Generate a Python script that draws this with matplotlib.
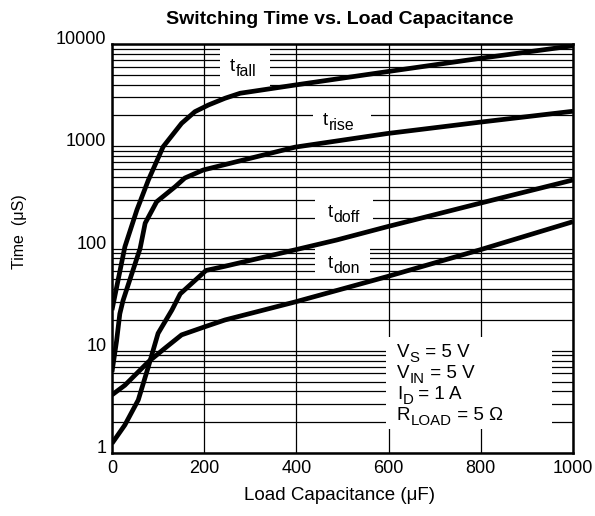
import matplotlib

matplotlib.use("Agg")

import matplotlib.pyplot as plt
import matplotlib.transforms as mtransforms
from matplotlib.patches import Rectangle
from matplotlib.ticker import LogLocator, NullFormatter

plt.rcParams["font.family"] = ["Liberation Sans", "DejaVu Sans"]

# values (load capacitance in uF, time in uS)
tfall_x = [0, 28, 54, 79, 111, 151, 180, 209, 245, 278, 397, 596, 798, 1000]
tfall_y = [25, 104, 238, 468, 990, 1676, 2180, 2530, 2946, 3300, 3970, 5360, 7240, 9600]

trise_x = [0, 10, 17, 24, 61, 72, 97, 137, 158, 198, 397, 596, 798, 1000]
trise_y = [6.2, 12.5, 23, 31, 100, 177, 287, 402, 489, 586, 980, 1330, 1720, 2200]

tdoff_x = [0, 28, 57, 79, 100, 130, 148, 204, 245, 397, 487, 596, 798, 1000]
tdoff_y = [1.24, 1.88, 3.3, 7.0, 14.8, 25, 36, 61, 67, 97, 121, 163, 277, 468]

tdon_x = [0, 28, 79, 115, 151, 202, 245, 397, 596, 798, 1000]
tdon_y = [3.7, 4.6, 7.8, 10.6, 14.3, 17.2, 20, 30, 53, 97, 183]

x_ticks = [0, 200, 400, 600, 800, 1000]
y_ticks = [1, 10, 100, 1000, 10000]
y_tick_labels = ["1", "10", "100", "1000", "10000"]

# (main, subscript, rest)
curve_labels = [("t", "fall", ""), ("t", "rise", ""), ("t", "doff", ""), ("t", "don", "")]
conditions = [("V", "S", " = 5 V"), ("V", "IN", " = 5 V"), ("I", "D", " = 1 A"), ("R", "LOAD", " = 5 Ω")]


def sub_text(ax, x, y, main, sub, rest, size, sub_scale=0.85):
    t1 = ax.text(x, y, main, transform=ax.transAxes, fontsize=size,
                 ha="left", va="baseline", zorder=4)
    t2 = ax.annotate(sub, xy=(1, 0), xycoords=t1, xytext=(0.2, -2.6),
                     textcoords="offset points", fontsize=size * sub_scale,
                     ha="left", va="bottom", zorder=4)
    if rest:
        ax.annotate(rest, xy=(1, 0), xycoords=(t2, t1), xytext=(0, 0),
                    textcoords="offset points", fontsize=size,
                    ha="left", va="bottom", zorder=4)


fig = plt.figure(figsize=(5.95, 5.16), dpi=100)
ax = fig.add_axes([0.1882, 0.1221, 0.7748, 0.7926])

for xs, ys in [(tfall_x, tfall_y), (trise_x, trise_y), (tdoff_x, tdoff_y), (tdon_x, tdon_y)]:
    ax.plot(xs, ys, color="black", lw=3.4, solid_capstyle="butt", solid_joinstyle="round", zorder=3)

ax.set_xlim(0, 1000)
ax.set_yscale("log")
ax.set_ylim(1, 10000)
ax.set_xticks(x_ticks)
ax.set_yticks(y_ticks)
ax.set_yticklabels(y_tick_labels)
ax.yaxis.set_minor_locator(LogLocator(base=10, subs=range(2, 10), numticks=20))
ax.yaxis.set_minor_formatter(NullFormatter())
ax.tick_params(which="both", length=0, labelsize=13)
ax.tick_params(axis="x", pad=5)
ax.tick_params(axis="y", pad=4)

# y labels sit a little above their grid lines
offset = mtransforms.ScaledTranslation(0, 0.065, fig.dpi_scale_trans)
for lbl in ax.get_yticklabels():
    lbl.set_transform(lbl.get_transform() + offset)

ax.set_axisbelow(True)
ax.grid(which="both", axis="y", color="black", lw=0.9)
ax.grid(which="major", axis="x", color="black", lw=0.9)
for sp in ax.spines.values():
    sp.set_linewidth(1.8)

# white gaps in the grid for the curve labels
label_boxes = [(0.234, 0.870, 0.109, 0.121), (0.437, 0.790, 0.124, 0.061),
               (0.440, 0.555, 0.126, 0.081), (0.440, 0.435, 0.119, 0.071)]
label_pos = [(0.256, 0.934), (0.458, 0.802), (0.4685, 0.577), (0.4685, 0.452)]
for (bx, by, bw, bh), (tx, ty), (m, s, r) in zip(label_boxes, label_pos, curve_labels):
    ax.add_patch(Rectangle((bx, by), bw, bh, transform=ax.transAxes,
                           facecolor="white", edgecolor="none", zorder=2))
    sub_text(ax, tx, ty, m, s, r, 13.5)

ax.add_patch(Rectangle((0.594, 0.0587), 0.36, 0.225, transform=ax.transAxes,
                       facecolor="white", edgecolor="none", zorder=2))
for i, (m, s, r) in enumerate(conditions):
    sub_text(ax, 0.618, 0.2347 - i * 0.0513, m, s, r, 13.5, sub_scale=0.8)

fig.text(340 / 595, 1 - 20 / 516, "Switching Time vs. Load Capacitance",
         fontsize=14, fontweight="bold", ha="center", va="center")
fig.text(340 / 595, 1 - 495 / 516, "Load Capacitance (μF)", fontsize=13.5,
         ha="center", va="center")
fig.text(20 / 595, 1 - 232 / 516, "Time  (μS)", fontsize=11.5, rotation=90,
         ha="center", va="center")

fig.savefig("out.png", dpi=100)
plt.close(fig)
